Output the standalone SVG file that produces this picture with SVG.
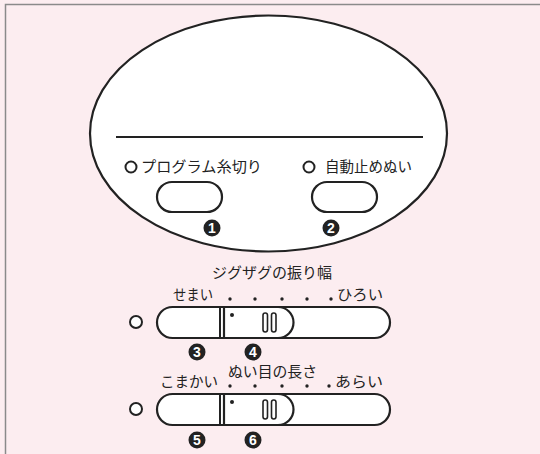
<svg xmlns="http://www.w3.org/2000/svg" width="540" height="454" viewBox="0 0 540 454">
<style>
.t{font-family:"Noto Sans CJK JP","Noto Sans",sans-serif;font-size:14.5px;fill:#222}
.ln{fill:none;stroke:#222;stroke-width:2}
.wf{fill:#fff;stroke:#222;stroke-width:2.2}
.oc{fill:#fff;stroke:#222;stroke-width:2}
.nb{fill:#222}
.nd{font-family:"Liberation Sans",Arial,sans-serif;font-size:14px;font-weight:bold;fill:#fff;text-anchor:middle}
.dot{fill:#222}
</style>
<rect x="0" y="0" width="540" height="454" fill="#fcedf0"/>
<path d="M5.5,454 V4.5 H540" fill="none" stroke="#8a8a8a" stroke-width="1.5"/>
<g id="panel">
<ellipse cx="268.5" cy="133.5" rx="178.5" ry="118" class="wf"/>
<line x1="116" y1="137" x2="423" y2="137" class="ln"/>
</g>
<g id="thread-cut">
<circle cx="131" cy="167" r="5.5" class="oc"/>
<text x="141" y="172" class="t" textLength="121" lengthAdjust="spacingAndGlyphs">プログラム糸切り</text>
<rect x="157" y="182" width="65" height="30" rx="15" class="wf"/>
<circle cx="212" cy="228" r="8.5" class="nb"/>
<text x="212" y="233" class="nd">1</text>
</g>
<g id="auto-stitch">
<circle cx="309" cy="167" r="5.5" class="oc"/>
<text x="325" y="172" class="t" textLength="87" lengthAdjust="spacingAndGlyphs">自動止めぬい</text>
<rect x="312" y="182" width="65" height="30" rx="15" class="wf"/>
<circle cx="331" cy="228" r="8.5" class="nb"/>
<text x="331" y="233" class="nd">2</text>
</g>
<g id="zigzag">
<text x="212" y="278" class="t" textLength="120" lengthAdjust="spacingAndGlyphs">ジグザグの振り幅</text>
<text x="173" y="300" class="t" textLength="40" lengthAdjust="spacingAndGlyphs">せまい</text>
<text x="337" y="300" class="t" textLength="46" lengthAdjust="spacingAndGlyphs">ひろい</text>
<circle cx="230" cy="299" r="1.7" class="dot"/>
<circle cx="255" cy="299" r="1.7" class="dot"/>
<circle cx="282" cy="299" r="1.7" class="dot"/>
<circle cx="307" cy="299" r="1.7" class="dot"/>
<circle cx="331" cy="299" r="1.7" class="dot"/>
<circle cx="136" cy="322" r="6" class="oc"/>
<rect x="157" y="307" width="233" height="31" rx="15.5" class="wf"/>
<line x1="220" y1="307" x2="220" y2="338" class="ln" stroke-width="1.6"/>
<path d="M224,307 H278 A15.5,15.5 0 0 1 278,338 H224 Z" class="wf"/>
<circle cx="232" cy="315" r="2" class="dot"/>
<rect x="263" y="313" width="4.5" height="19" rx="2.25" fill="none" stroke="#222" stroke-width="1.6"/>
<rect x="271.5" y="313" width="4.5" height="19" rx="2.25" fill="none" stroke="#222" stroke-width="1.6"/>
<circle cx="197" cy="352" r="8.5" class="nb"/>
<text x="197" y="357" class="nd">3</text>
<circle cx="253" cy="352" r="8.5" class="nb"/>
<text x="253" y="357" class="nd">4</text>
</g>
<g id="stitch-length">
<text x="228" y="377" class="t" textLength="89" lengthAdjust="spacingAndGlyphs">ぬい目の長さ</text>
<text x="160" y="387" class="t" textLength="58" lengthAdjust="spacingAndGlyphs">こまかい</text>
<text x="335" y="387" class="t" textLength="48" lengthAdjust="spacingAndGlyphs">あらい</text>
<circle cx="230" cy="386" r="1.7" class="dot"/>
<circle cx="255" cy="386" r="1.7" class="dot"/>
<circle cx="282" cy="386" r="1.7" class="dot"/>
<circle cx="307" cy="386" r="1.7" class="dot"/>
<circle cx="329" cy="386" r="1.7" class="dot"/>
<circle cx="136" cy="409" r="6" class="oc"/>
<rect x="157" y="394" width="233" height="31" rx="15.5" class="wf"/>
<line x1="220" y1="394" x2="220" y2="425" class="ln" stroke-width="1.6"/>
<path d="M224,394 H278 A15.5,15.5 0 0 1 278,425 H224 Z" class="wf"/>
<circle cx="232" cy="402" r="2" class="dot"/>
<rect x="263" y="400" width="4.5" height="19" rx="2.25" fill="none" stroke="#222" stroke-width="1.6"/>
<rect x="271.5" y="400" width="4.5" height="19" rx="2.25" fill="none" stroke="#222" stroke-width="1.6"/>
<circle cx="197" cy="440" r="8.5" class="nb"/>
<text x="197" y="445" class="nd">5</text>
<circle cx="253" cy="440" r="8.5" class="nb"/>
<text x="253" y="445" class="nd">6</text>
</g>
</svg>
